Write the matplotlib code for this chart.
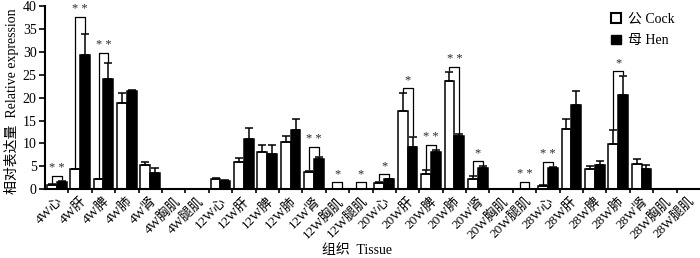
import numpy as np
import matplotlib
matplotlib.use("Agg")
import matplotlib.pyplot as plt
from matplotlib.patches import Patch

plt.rcParams['font.family'] = ['Liberation Serif', 'Noto Sans CJK SC']

stages = ['4W', '12W', '20W', '28W']
tissues = ['心', '肝', '脾', '肺', '肾', '胸肌', '腿肌']
labels = [s + t for s in stages for t in tissues]

cock = [1.0, 4.4, 2.2, 18.8, 5.3, 0.1, 0.1,
        2.2, 6.0, 8.1, 10.3, 3.8, 0.1, 0.1,
        1.45, 17.1, 3.3, 23.6, 2.25, 0.1, 0.1,
        0.8, 13.2, 4.5, 9.9, 5.5, 0.1, 0.1]
cock_err = [0.15, 0.1, 0.1, 2.3, 0.7, 0, 0,
            0.2, 0.8, 1.6, 1.4, 0.3, 0, 0,
            0.2, 3.9, 0.9, 2.1, 0.65, 0, 0,
            0.1, 2.1, 0.6, 3.0, 1.2, 0, 0]
hen = [1.7, 29.3, 24.1, 21.4, 3.6, 0.1, 0.1,
       1.9, 11.0, 7.7, 12.9, 6.7, 0.1, 0.1,
       2.2, 9.3, 8.1, 11.6, 4.6, 0.1, 0.1,
       4.6, 18.3, 5.3, 20.5, 4.4, 0.1, 0.1]
hen_err = [0.2, 4.6, 3.4, 0.2, 1.0, 0, 0,
           0.1, 2.3, 2.0, 2.4, 0.4, 0, 0,
           0.1, 2.2, 0.5, 0.4, 0.5, 0, 0,
           0.3, 3.2, 0.9, 4.3, 1.0, 0, 0]

# significance marks: category index -> stars
sig = {0: '**', 1: '**', 2: '**', 11: '**', 12: '*', 13: '*', 14: '*',
       15: '*', 16: '**', 17: '**', 18: '*', 20: '**', 21: '**', 24: '*'}
# extra headroom above the taller bar for a few brackets
sig_pad = {1: 3.8, 2: 2.3, 11: 2.2, 12: 1.5, 13: 1.5, 20: 1.5}

fig = plt.figure(figsize=(7.0, 2.58), dpi=100)
ax = fig.add_axes([45 / 700, 68.7 / 258, 655 / 700, 183.3 / 258])

x = np.arange(len(labels))
w = 0.42
lw = 1.1
ekw = dict(elinewidth=lw, capthick=lw, ecolor='black')
zeros = np.zeros(len(labels))
ax.bar(x - w / 2, cock, w, color='white', edgecolor='black', linewidth=lw,
       yerr=[zeros, cock_err], capsize=2.8, error_kw=ekw, zorder=2)
ax.bar(x + w / 2, hen, w, color='black', edgecolor='black', linewidth=lw,
       yerr=[zeros, hen_err], capsize=2.8, error_kw=ekw, zorder=2)

for i, stars in sig.items():
    lt = cock[i] + cock_err[i]
    rt = hen[i] + hen_err[i]
    top = max(lt, rt) + sig_pad.get(i, 1.0)
    xl, xr = i - w / 2, i + w / 2
    ax.plot([xl, xl, xr, xr], [lt + 0.3, top, top, rt + 0.3],
            color='black', lw=0.9, zorder=3)
    ax.text(i, top + 0.4, ' '.join(stars), ha='center', va='bottom',
            fontsize=9, color='#2a2a2a')

ax.set_xlim(-0.5, 27.5)
ax.set_ylim(0, 40)
ax.set_yticks(np.arange(0, 41, 5))
ax.set_xticks(x)
ax.set_xticklabels(labels, rotation=45, ha='right', rotation_mode='anchor',
                   fontsize=9.5)
ax.set_xticks(np.arange(0.5, 27.5, 1), minor=True)
ax.tick_params(axis='x', which='major', length=0, pad=4)
ax.tick_params(axis='x', which='minor', length=3, width=1.2, direction='out')
ax.tick_params(axis='y', length=4, width=1.2, labelsize=10, pad=2)

for s in ['top', 'right']:
    ax.spines[s].set_visible(False)
for s in ['left', 'bottom']:
    ax.spines[s].set_linewidth(1.5)

ax.set_ylabel('相对表达量  Relative expression', fontsize=10)
ax.yaxis.set_label_coords(-0.04, 0.48)
ax.set_xlabel('组织  Tissue', fontsize=10)
ax.xaxis.set_label_coords(0.476, -0.30)

handles = [Patch(facecolor='white', edgecolor='black', linewidth=1.5),
           Patch(facecolor='black', edgecolor='black')]
ax.legend(handles, ['公 Cock', '母 Hen'], loc='upper left',
          bbox_to_anchor=(0.845, 1.03), frameon=False, fontsize=10,
          handlelength=0.7, handleheight=0.7, handletextpad=0.5,
          labelspacing=0.6)

fig.savefig('out.png', dpi=100)
